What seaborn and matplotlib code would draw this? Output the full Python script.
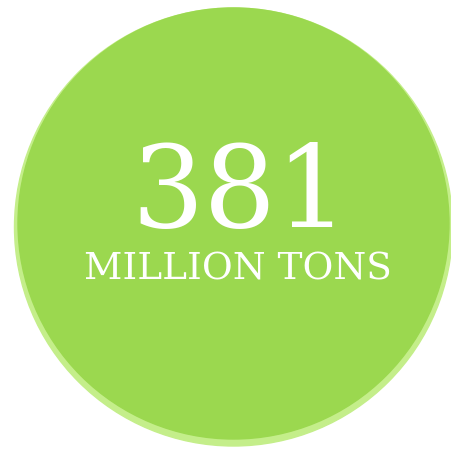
import matplotlib
matplotlib.use('Agg')
import matplotlib.pyplot as plt
import seaborn as sns
from matplotlib.patches import Circle

# Datos del gráfico
valor = 381
unidad = 'MILLION TONS'
verde = '#9bd84f'
verde_borde = '#c4ee8a'

sns.set_theme(style='white')
plt.rcParams['font.family'] = ['DejaVu Serif', 'DejaVu Sans']

fig = plt.figure(figsize=(4.52, 4.52), dpi=100)
ax = fig.add_axes([0, 0, 1, 1])
ax.set_xlim(0, 452)
ax.set_ylim(452, 0)
ax.set_axis_off()

# Moneda verde con borde claro abajo
ax.add_patch(Circle((233.5, 228), 219, color=verde_borde, zorder=1))
ax.add_patch(Circle((233.5, 224.5), 215.5, color=verde, zorder=2))

ax.text(240, 227, str(valor), color='white', fontsize=82, ha='center',
        va='baseline', fontweight='medium', zorder=3)
ax.text(238, 280, unidad, color='white', fontsize=27, ha='center',
        va='baseline', zorder=3)

plt.savefig('out.png', dpi=100, facecolor='white')
